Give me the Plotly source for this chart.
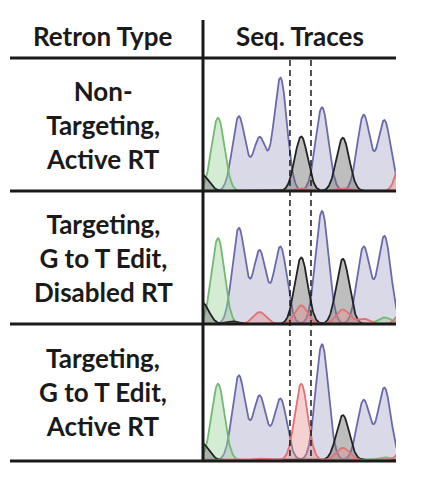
import numpy as np
import plotly.graph_objects as go

W, H = 424, 482
OFF = 8  # page body margin compensation
row_labels = ["Non-<br>Targeting,<br>Active RT",
              "Targeting,<br>G to T Edit,<br>Disabled RT",
              "Targeting,<br>G to T Edit,<br>Active RT"]
header_left = "Retron Type"
header_right = "Seq. Traces"

# peaks per panel: (position index, height fraction)
p1_green = [(0, 0.55)]
p1_blue = [(1, 0.56), (2, 0.40), (3, 0.85), (5, 0.63), (7, 0.57), (8, 0.53)]
p1_black = [(-0.75, 0.12), (4, 0.41), (6, 0.40)]
p1_red = [(4, 0.02), (6, 0.02), (9.0, 0.40)]

p2_green = [(0, 0.645), (8, 0.05)]
p2_blue = [(1, 0.72), (2, 0.55), (3, 0.58), (5, 0.85), (7, 0.58), (8, 0.66)]
p2_black = [(-0.75, 0.16), (0.7, 0.02), (4, 0.50), (6, 0.49)]
p2_red = [(2, 0.09), (4, 0.14), (6, 0.11), (7, 0.04), (9.0, 0.14)]

p3_green = [(0, 0.56), (8, 0.02)]
p3_blue = [(1, 0.62), (2, 0.47), (3, 0.45), (5, 0.85), (7, 0.44), (8, 0.53)]
p3_black = [(-0.75, 0.12), (6, 0.33)]
p3_red = [(4, 0.56), (2, 0.01), (6, 0.09), (9.0, 0.09)]

panels = [(p1_green, p1_blue, p1_black, p1_red),
          (p2_green, p2_blue, p2_black, p2_red),
          (p3_green, p3_blue, p3_black, p3_red)]

SIG = 0.31
x = np.linspace(-1.2, 9.6, 900)
def curve(peaks):
    y = np.zeros_like(x)
    for p, h in peaks:
        y += h * np.exp(-0.5 * ((x - p) / SIG) ** 2)
    return y

styles = [("green", "#74b874", "rgba(160,210,160,0.45)"),
          ("blue", "#6a6aab", "rgba(170,170,205,0.45)"),
          ("black", "#222222", "rgba(110,110,110,0.45)"),
          ("red", "#e07272", "rgba(230,140,140,0.4)")]
draw_order = [1, 0, 2, 3]

def X(px):
    return (px - OFF) / W
def Y(py):
    return 1 - (py - OFF) / H

px_left, px_right = 204, 396
rows_px = [(58, 191), (191, 324), (324, 460)]
xr = [(px_left - 218) / 20.8, (px_right - 218) / 20.8]

fig = go.Figure()
for i, pk in enumerate(panels):
    ax = "" if i == 0 else str(i + 1)
    for k in draw_order:
        name, lc, fc = styles[k]
        fig.add_trace(go.Scatter(x=x, y=curve(pk[k]), mode="lines", fill="tozeroy",
                                 line=dict(color=lc, width=1.8), fillcolor=fc,
                                 xaxis="x" + ax, yaxis="y" + ax, hoverinfo="skip",
                                 showlegend=False))
    t, b = rows_px[i]
    fig.layout["xaxis" + ax] = dict(domain=[X(px_left), X(px_right)], range=xr,
                                    visible=False, fixedrange=True)
    fig.layout["yaxis" + ax] = dict(domain=[Y(b), Y(t)], range=[0, 1.0], visible=False,
                                    fixedrange=True)

shapes = []
def hl(py, x0, x1):
    shapes.append(dict(type="line", xref="paper", yref="paper", x0=X(x0), x1=X(x1),
                       y0=Y(py), y1=Y(py), line=dict(color="#1a1a1a", width=3)))
for py in [58, 191, 324, 461]:
    hl(py, 10, 396)
shapes.append(dict(type="line", xref="paper", yref="paper", x0=X(203), x1=X(203),
                   y0=Y(20), y1=Y(462), line=dict(color="#1a1a1a", width=3)))
for dx in [3.46, 4.47]:
    shapes.append(dict(type="line", xref="x", yref="paper", x0=dx, x1=dx,
                       y0=Y(60), y1=Y(462),
                       line=dict(color="#1a1a1a", width=1.5, dash="6px,4px")))

font = dict(family="Lato", size=26, color="#1a1a1a")
ann = [dict(x=X(103), y=Y(36), text="<b>" + header_left + "</b>"),
       dict(x=X(300), y=Y(36), text="<b>" + header_right + "</b>")]
for i, lab in enumerate(row_labels):
    t, b = rows_px[i]
    ann.append(dict(x=X(103), y=Y((t + b) / 2), text="<b>" + lab + "</b>"))
for a in ann:
    a.update(xref="paper", yref="paper", showarrow=False, font=font,
             xanchor="center", yanchor="middle", align="center")

fig.update_layout(width=W, height=H, margin=dict(l=0, r=0, t=0, b=0),
                  paper_bgcolor="white", plot_bgcolor="rgba(0,0,0,0)",
                  shapes=shapes, annotations=ann)
fig.write_html("out.html")
